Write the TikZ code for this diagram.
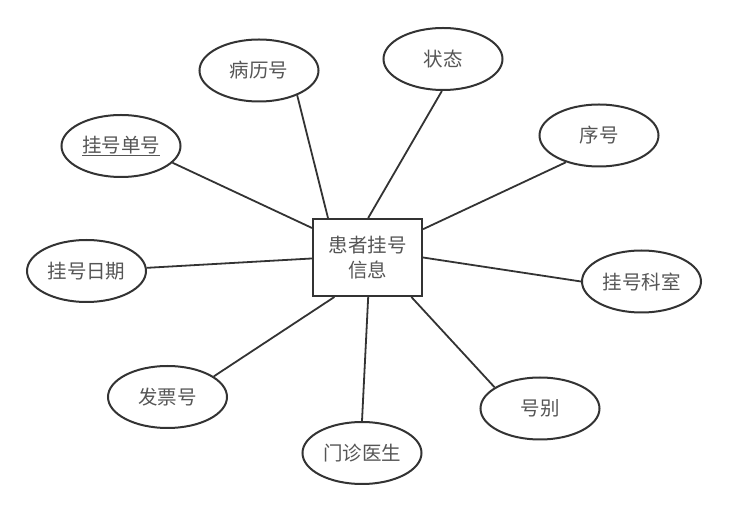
\documentclass[tikz,border=0pt]{standalone}
\usepackage{fontspec}
\newfontfamily\cjk{Noto Sans CJK SC}
\usetikzlibrary{shapes.geometric}
\definecolor{edgegray}{HTML}{333333}
\definecolor{textgray}{HTML}{555555}

\begin{document}
\begin{tikzpicture}[x = 1pt, y = -1pt,
    attr/.style = {ellipse, draw = edgegray, line width = 2pt, minimum width = 119pt,
      minimum height = 62pt, inner sep = 0pt, text = textgray, font = \cjk\fontsize{19.5}{25}\selectfont},
    entity/.style = {rectangle, draw = edgegray, line width = 2pt, minimum width = 109pt,
      minimum height = 77pt, inner sep = 0pt, align = center, text = textgray, font = \cjk\fontsize{19.5}{25}\selectfont},
    link/.style = {draw = edgegray, line width = 1.8pt}]
    \useasboundingbox (0,0) rectangle (729,510);
    \node [entity] (info) at (367.5,257.5) {患者挂号\\信息};
    \node [attr] (bingli) at (259,70.5) {病历号};
    \node [attr] (zhuangtai) at (443,59) {状态};
    \node [attr] (xuhao) at (599,135.5) {序号};
    \node [attr] (danhao) at (121,146) {\underline{挂号单号}};
    \node [attr] (riqi) at (86.5,271) {挂号日期};
    \node [attr] (keshi) at (641.5,281.5) {挂号科室};
    \node [attr] (fapiao) at (167.5,397) {发票号};
    \node [attr] (haobie) at (540,408.5) {号别};
    \node [attr] (yisheng) at (362,453) {门诊医生};
    \draw [link] (info.135) -- (bingli.-33);
    \draw [link] (info.89) -- (zhuangtai.-92);
    \draw [link] (info.27) -- (xuhao.219);
    \draw [link] (info.152) -- (danhao.-18);
    \draw [link] (info.181) -- (riqi.3);
    \draw [link] (info.0) -- (keshi.180);
    \draw [link] (info.230) -- (fapiao.24);
    \draw [link] (info.-42) -- (haobie.155);
    \draw [link] (info.-89) -- (yisheng.90);
  \end{tikzpicture}
\end{document}
